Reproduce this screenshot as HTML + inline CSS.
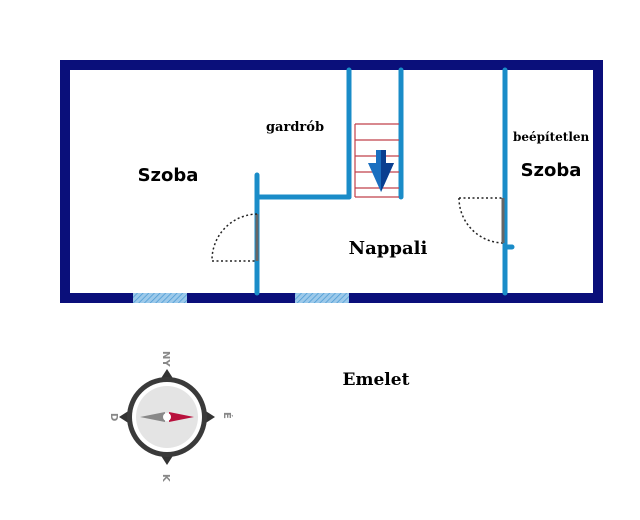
<!DOCTYPE html>
<html><head><style>body{margin:0;background:#fff}svg{display:block}</style></head><body>
<svg width="640" height="520" viewBox="0 0 640 520" xmlns="http://www.w3.org/2000/svg" font-family="Liberation Serif, serif" font-weight="bold">
<defs>
<pattern id="h" width="4" height="4" patternUnits="userSpaceOnUse" patternTransform="rotate(45)">
<rect width="4" height="4" fill="#9cc9ea"/><line x1="0" y1="0" x2="0" y2="4" stroke="#4a9ad4" stroke-width="1.5"/></pattern>
</defs>
<rect x="65" y="65" width="533" height="233" fill="none" stroke="#0a0f7a" stroke-width="10"/>
<rect x="133" y="293" width="54" height="10" fill="url(#h)"/>
<rect x="295" y="293" width="54" height="10" fill="url(#h)"/>
<g stroke="#1a8cc8" stroke-width="5" stroke-linecap="round" fill="none">
<line x1="349" y1="70" x2="349" y2="197"/>
<line x1="401" y1="70" x2="401" y2="197"/>
<line x1="257" y1="197" x2="349" y2="197"/>
<line x1="257" y1="175" x2="257" y2="293"/>
<line x1="505" y1="70" x2="505" y2="293"/>
<line x1="505" y1="247" x2="512" y2="247"/>
</g>
<g stroke="#c0404a" stroke-width="1.2">
<line x1="355" y1="124" x2="355" y2="197"/>
<line x1="355" y1="124" x2="399" y2="124"/><line x1="355" y1="140" x2="399" y2="140"/>
<line x1="355" y1="156" x2="399" y2="156"/><line x1="355" y1="172" x2="399" y2="172"/>
<line x1="355" y1="188" x2="399" y2="188"/><line x1="355" y1="197" x2="399" y2="197"/>
</g>
<polygon points="376,150 386,150 386,163 394,163 381,192 368,163 376,163" fill="#1a6fc0"/>
<polygon points="381,150 386,150 386,163 394,163 381,192" fill="#0a3f90"/>
<line x1="257" y1="214" x2="257" y2="261" stroke="#666" stroke-width="3"/>
<g stroke="#222" stroke-width="1.5" stroke-dasharray="2,2.5" fill="none">
<path d="M257 214 A46 46 0 0 0 212 260"/><line x1="212" y1="261" x2="257" y2="261"/>
<line x1="459" y1="198" x2="503" y2="198"/><path d="M459 198 A45 45 0 0 0 503 243"/>
</g>
<line x1="503" y1="198" x2="503" y2="243" stroke="#666" stroke-width="3"/>
<text x="168" y="181" font-size="18" text-anchor="middle" font-family="DejaVu Sans, sans-serif">Szoba</text>
<text x="295" y="131" font-size="13" text-anchor="middle" font-family="DejaVu Serif, serif">gardrób</text>
<text x="388" y="254" font-size="18" text-anchor="middle" font-family="DejaVu Serif, serif">Nappali</text>
<text x="513" y="141" font-size="12" font-family="DejaVu Serif, serif">beépítetlen</text>
<text x="551" y="176" font-size="18" text-anchor="middle" font-family="DejaVu Sans, sans-serif">Szoba</text>
<text x="376" y="385" font-size="17" text-anchor="middle" font-family="DejaVu Serif, serif">Emelet</text>
<g transform="translate(167,417)">
<polygon points="0,-48 9,-34 -9,-34" fill="#333"/><polygon points="0,48 9,34 -9,34" fill="#333"/>
<polygon points="-48,0 -34,9 -34,-9" fill="#333"/><polygon points="48,0 34,9 34,-9" fill="#333"/>
<circle r="40" fill="#3a3a3a"/><circle r="35" fill="#fff"/><circle r="31" fill="#e4e4e4"/>
<polygon points="-27,0 -2,-5 -2,5" fill="#888"/><polygon points="27,0 2,-5 2,5" fill="#b8103c"/>
<circle r="4" fill="#fff"/>
<g font-family="DejaVu Sans, sans-serif" font-size="10" fill="#888">
<text transform="translate(-4,-66) rotate(90)">NY</text>
<text transform="translate(-56,-4) rotate(90)">D</text>
<text transform="translate(57,-5) rotate(90)">É</text>
<text transform="translate(-4,57) rotate(90)">K</text>
</g></g>
</svg>
</body></html>
